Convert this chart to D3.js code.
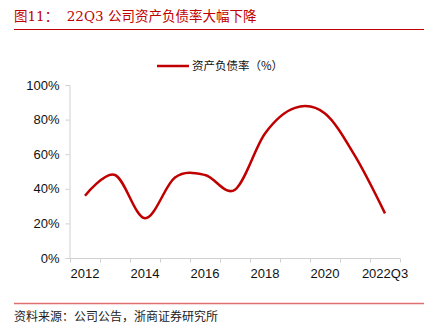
<!DOCTYPE html>
<html>
<head>
<meta charset="utf-8">
<script src="https://cdn.jsdelivr.net/npm/d3@7"></script>
<style>
  body { margin: 0; background: #fff; }
  svg { display: block; }
</style>
</head>
<body>
<svg width="436" height="336"></svg>
<script>
// chart data
var categories = ['2012', '2013', '2014', '2015', '2016', '2017', '2018', '2019', '2020', '2021', '2022Q3'];
var debtRatio = [0.36, 0.48, 0.23, 0.465, 0.48, 0.395, 0.72, 0.868, 0.835, 0.59, 0.258];
var xTickLabels = ['2012', '2014', '2016', '2018', '2020', '2022Q3'];
var yTicks = [0, 0.2, 0.4, 0.6, 0.8, 1.0];

var red = '#c00000';
var svg = d3.select('svg');
var cjk = '"Noto Sans CJK SC", "Noto Sans", sans-serif';
var serif = '"DejaVu Serif", "Liberation Serif", "Noto Sans CJK SC", serif';

// title
svg.append('text')
    .attr('x', 14).attr('y', 21)
    .attr('font-family', serif)
    .attr('font-size', 13.5)
    .attr('fill', red)
    .attr('xml:space', 'preserve')
    .text('图11：  22Q3 公司资产负债率大幅下降');
svg.append('line')
    .attr('x1', 14).attr('x2', 424)
    .attr('y1', 29.5).attr('y2', 29.5)
    .attr('stroke', red).attr('stroke-width', 1);

// footer
svg.append('line')
    .attr('x1', 14).attr('x2', 424)
    .attr('y1', 303.5).attr('y2', 303.5)
    .attr('stroke', '#e07070').attr('stroke-width', 1.5);
svg.append('text')
    .attr('x', 14).attr('y', 321)
    .attr('font-family', serif)
    .attr('font-size', 12)
    .attr('fill', '#222')
    .text('资料来源：公司公告，浙商证券研究所');

// scales
var x = d3.scaleBand().domain(categories).range([70, 400]);
var y = d3.scaleLinear().domain([0, 1]).range([258, 85]);

// y axis
var yAxis = svg.append('g')
    .attr('transform', 'translate(69.5,0)')
    .call(d3.axisLeft(y).tickValues(yTicks).tickSize(4).tickPadding(6).tickFormat(d3.format('.0%')));
yAxis.select('.domain').attr('stroke', '#d0d0d0');
yAxis.selectAll('.tick line').attr('stroke', '#d0d0d0');
yAxis.selectAll('text')
    .attr('font-family', '"Liberation Sans", Arial, sans-serif')
    .attr('font-size', 13)
    .attr('fill', '#111');

// x axis
var xAxis = svg.append('g')
    .attr('transform', 'translate(0,258.5)')
    .call(d3.axisBottom(x).tickSize(0).tickPadding(10)
        .tickFormat(function(d) { return xTickLabels.indexOf(d) >= 0 ? d : ''; }));
xAxis.select('.domain').attr('stroke', '#d0d0d0').attr('d', 'M70,0H400');
xAxis.selectAll('text')
    .attr('font-family', '"Liberation Sans", Arial, sans-serif')
    .attr('font-size', 13)
    .attr('fill', '#111');
// ticks at band edges
var edges = categories.map(function(d) { return x(d); }).concat([x.range()[1]]);
xAxis.selectAll('.edge')
    .data(edges)
    .enter().append('line')
    .attr('x1', function(d) { return Math.round(d) + 0.5; })
    .attr('x2', function(d) { return Math.round(d) + 0.5; })
    .attr('y1', 0).attr('y2', 4)
    .attr('stroke', '#d0d0d0');

// line
var line = d3.line()
    .x(function(d, i) { return x(categories[i]) + x.bandwidth() / 2; })
    .y(function(d) { return y(d); })
    .curve(d3.curveCardinal.tension(0));
svg.append('path')
    .datum(debtRatio)
    .attr('d', line)
    .attr('fill', 'none')
    .attr('stroke', red)
    .attr('stroke-width', 2.5);

// legend
svg.append('line')
    .attr('x1', 157).attr('x2', 189)
    .attr('y1', 66).attr('y2', 66)
    .attr('stroke', red).attr('stroke-width', 2.5);
svg.append('text')
    .attr('x', 192).attr('y', 70)
    .attr('font-family', cjk)
    .attr('font-size', 11.5)
    .attr('fill', '#111')
    .text('资产负债率（%）');
</script>
</body>
</html>
